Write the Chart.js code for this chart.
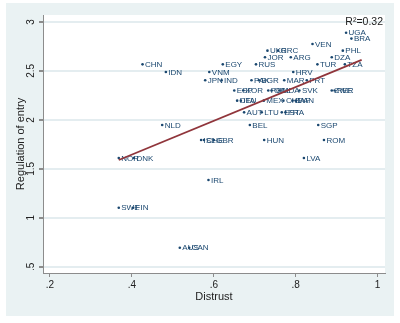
<!DOCTYPE html>
<html>
<head>
<meta charset="utf-8">
<script src="https://cdn.jsdelivr.net/npm/chart.js@4"></script>
<style>
  body { margin: 0; background: #fff; }
</style>
</head>
<body>
<canvas id="c" width="400" height="323"></canvas>
<script>
// country codes with distrust (x) and regulation of entry (y)
const countries = ['UGA','BRA','VEN','PHL','UKR','GRC','JOR','ARG','DZA','CHN','EGY','RUS','TUR','TZA',
  'IDN','VNM','HRV','JPN','IND','PAK','BGR','MAR','PRT','ESP','KOR','POL','COL','MDA','SVK','ZWE','PER',
  'DEU','ITA','MEX','CHL','ZAF','PAN','AUT','LTU','EST','FRA','NLD','BEL','SGP','ISL','CHE','GBR','HUN',
  'ROM','NOR','DNK','LVA','IRL','SWE','FIN','AUS','CAN'];
const distrust = [0.923,0.936,0.841,0.915,0.731,0.757,0.725,0.788,0.888,0.426,0.622,0.703,0.853,0.920,
  0.483,0.589,0.794,0.579,0.619,0.692,0.710,0.772,0.827,0.650,0.672,0.733,0.741,0.760,0.809,0.888,0.895,
  0.657,0.666,0.722,0.770,0.792,0.800,0.674,0.717,0.766,0.775,0.474,0.688,0.855,0.569,0.576,0.600,0.723,
  0.869,0.368,0.405,0.820,0.587,0.368,0.403,0.517,0.540];
const regulation = [2.890,2.830,2.775,2.707,2.707,2.707,2.640,2.640,2.640,2.567,2.567,2.567,2.567,2.567,
  2.489,2.489,2.489,2.404,2.404,2.404,2.404,2.404,2.404,2.300,2.300,2.300,2.300,2.300,2.300,2.300,2.300,
  2.196,2.196,2.196,2.196,2.196,2.196,2.077,2.077,2.077,2.077,1.947,1.947,1.947,1.794,1.794,1.794,1.794,
  1.794,1.610,1.610,1.610,1.386,1.103,1.103,0.694,0.694];

// fitted line end points
const fitX = [0.368, 0.961];
const fitY = [1.590, 2.612];

const xTicks = [0.2, 0.4, 0.6, 0.8, 1];
const xTickLabels = ['.2', '.4', '.6', '.8', '1'];
const yTicks = [0.5, 1, 1.5, 2, 2.5, 3];
const yTickLabels = ['.5', '1', '1.5', '2', '2.5', '3'];
const r2Text = 'R\u00b2=0.32';

const FONT = "'Liberation Sans', Arial, sans-serif";
const NAVY = '#1a476f';
const PANEL = '#eaf2f3';

const panelPlugin = {
  id: 'panel',
  beforeDraw(chart) {
    const { ctx, chartArea: a } = chart;
    ctx.save();
    ctx.fillStyle = '#fff';
    ctx.fillRect(0, 0, chart.width, chart.height);
    ctx.fillStyle = PANEL;
    ctx.fillRect(6, 3, 388, 313);
    ctx.fillStyle = '#fff';
    ctx.fillRect(a.left, a.top, a.right - a.left, a.bottom - a.top);
    ctx.restore();
  },
  beforeDatasetsDraw(chart) {
    // country labels, drawn under the fit line
    const { ctx } = chart;
    const meta = chart.getDatasetMeta(0);
    ctx.save();
    ctx.font = '8px ' + FONT;
    ctx.fillStyle = NAVY;
    ctx.textAlign = 'left';
    ctx.textBaseline = 'middle';
    meta.data.forEach((pt, i) => {
      ctx.fillText(countries[i], pt.x + 2.5, pt.y + 0.5);
    });
    ctx.restore();
  },
  afterDraw(chart) {
    const { ctx, scales } = chart;
    ctx.save();
    ctx.fillStyle = '#222';
    ctx.font = '10px ' + FONT;
    ctx.textAlign = 'center';
    ctx.textBaseline = 'middle';
    yTicks.forEach((v, i) => {
      const py = scales.y.getPixelForValue(v);
      ctx.save();
      ctx.translate(31, py);
      ctx.rotate(-Math.PI / 2);
      ctx.fillText(yTickLabels[i], 0, 0);
      ctx.restore();
    });
    ctx.font = '10.5px ' + FONT;
    ctx.textAlign = 'right';
    ctx.fillText(r2Text, 383, 22);
    ctx.restore();
  }
};

new Chart(document.getElementById('c'), {
  type: 'scatter',
  data: {
    datasets: [{
      data: distrust.map((x, i) => ({ x: x, y: regulation[i] })),
      pointRadius: 1.3,
      pointBackgroundColor: NAVY,
      pointBorderWidth: 0,
      order: 2
    }, {
      type: 'line',
      data: fitX.map((x, i) => ({ x: x, y: fitY[i] })),
      borderColor: '#90353b',
      borderWidth: 1.8,
      pointRadius: 0,
      fill: false,
      order: 1
    }]
  },
  options: {
    responsive: false,
    devicePixelRatio: 1,
    animation: false,
    layout: { padding: { left: 0, right: 15, top: 15, bottom: 0 } },
    plugins: { legend: { display: false }, tooltip: { enabled: false } },
    scales: {
      x: {
        type: 'linear',
        min: 0.183,
        max: 1.018,
        afterBuildTicks: s => { s.ticks = xTicks.map(v => ({ value: v })); },
        afterFit: s => { s.height = 50; },
        grid: { drawOnChartArea: false, drawTicks: true, tickLength: 4, tickColor: '#8c8c8c' },
        border: { display: true, color: '#8c8c8c', width: 1 },
        ticks: {
          autoSkip: false, maxRotation: 0, padding: 2,
          color: '#222', font: { family: FONT, size: 10 },
          callback: (v, i) => xTickLabels[i]
        },
        title: {
          display: true, text: 'Distrust', color: '#222',
          font: { family: FONT, size: 11 }, padding: { top: 0, bottom: 19 }
        }
      },
      y: {
        min: 0.436,
        max: 3.071,
        afterBuildTicks: s => { s.ticks = yTicks.map(v => ({ value: v })); },
        afterFit: s => { s.width = 43; },
        grid: { color: '#e4edf0', lineWidth: 2, drawTicks: true, tickLength: 4, tickColor: '#8c8c8c' },
        border: { display: true, color: '#8c8c8c', width: 1 },
        ticks: { display: false },
        title: {
          display: true, text: 'Regulation of entry', color: '#222',
          font: { family: FONT, size: 11 }, padding: { top: 14, bottom: 0 }
        }
      }
    }
  },
  plugins: [panelPlugin]
});
</script>
</body>
</html>
